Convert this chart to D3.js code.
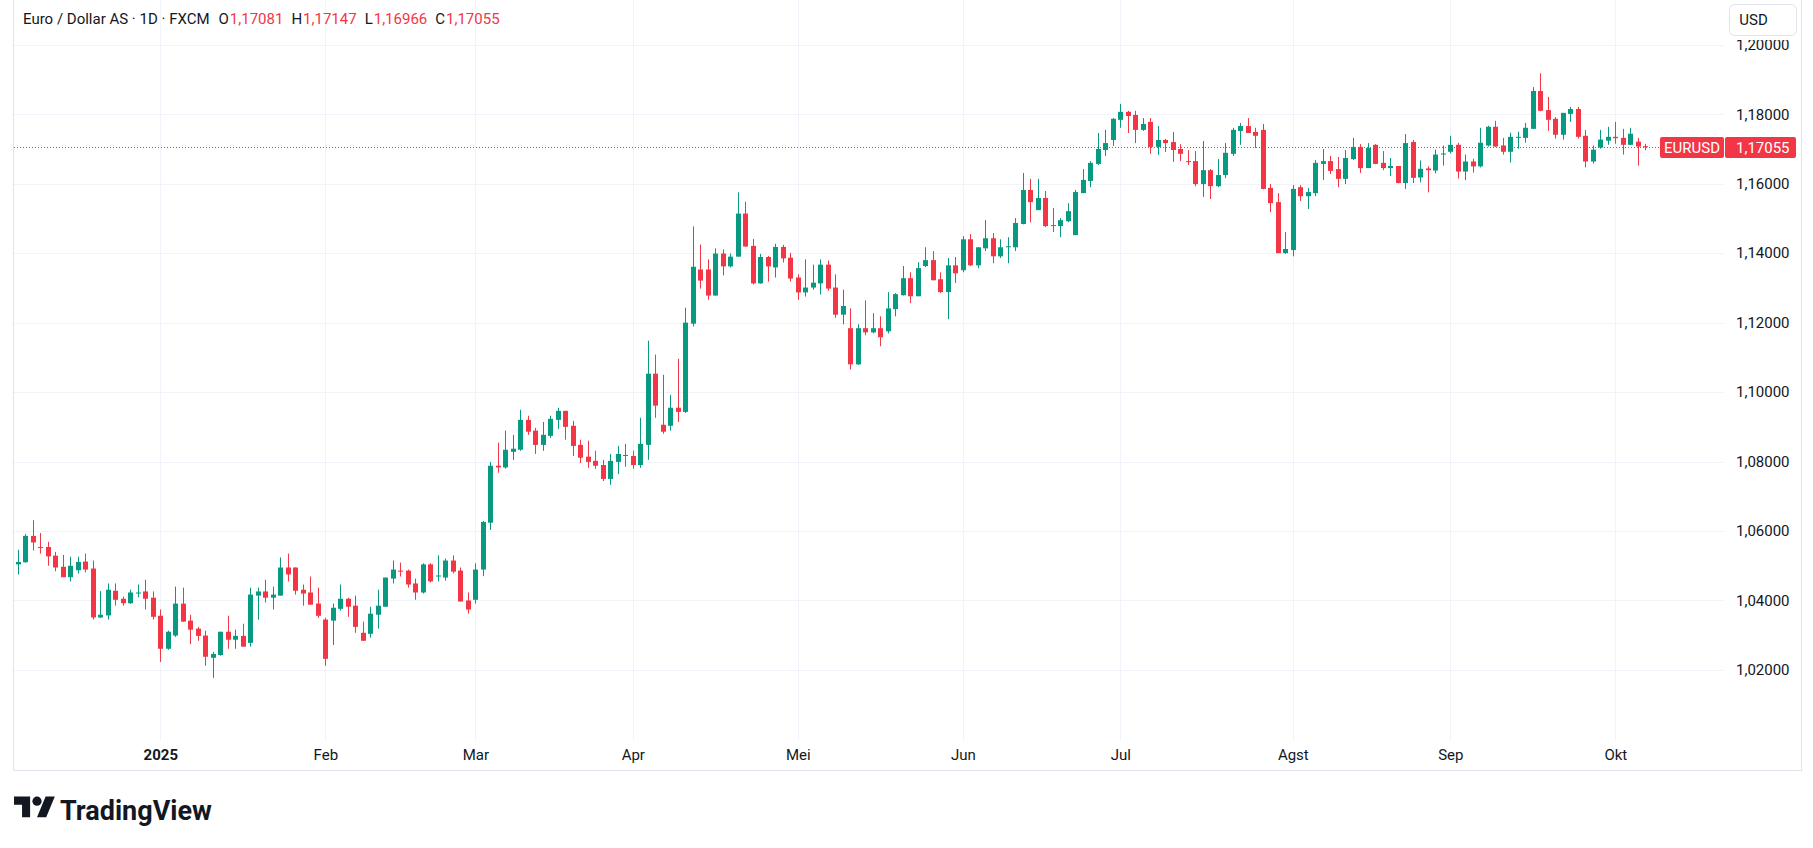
<!DOCTYPE html>
<html>
<head>
<meta charset="utf-8">
<script src="https://cdn.jsdelivr.net/npm/d3@7/dist/d3.min.js"></script>
<style>
  html, body { margin: 0; padding: 0; background: #ffffff; }
  svg { display: block; font-family: Roboto, "Liberation Sans", sans-serif; }
</style>
</head>
<body>
<div id="chart"></div>
<script>
// daily EURUSD bars, Dec 2024 .. Oct 7 2025 (one entry per trading day)
var openValues = [
  1.0504, 1.0510, 1.0586, 1.0554, 1.0554, 1.0529, 1.0497, 1.0467, 1.0487, 1.0512,
  1.0492, 1.0351, 1.0357, 1.0428, 1.0405, 1.0392, 1.0420, 1.0426, 1.0408, 1.0356,
  1.0261, 1.0299, 1.0391, 1.0342, 1.0319, 1.0299, 1.0235, 1.0243, 1.0310, 1.0287,
  1.0298, 1.0278, 1.0414, 1.0426, 1.0408, 1.0414, 1.0495, 1.0495, 1.0431, 1.0423,
  1.0391, 1.0345, 1.0342, 1.0376, 1.0405, 1.0385, 1.0307, 1.0304, 1.0359, 1.0382,
  1.0463, 1.0486, 1.0486, 1.0449, 1.0423, 1.0504, 1.0469, 1.0466, 1.0515, 1.0486,
  1.0400, 1.0402, 1.0489, 1.0624, 1.0788, 1.0783, 1.0828, 1.0834, 1.0920, 1.0889,
  1.0848, 1.0874, 1.0920, 1.0946, 1.0903, 1.0848, 1.0814, 1.0802, 1.0790, 1.0750,
  1.0799, 1.0819, 1.0816, 1.0790, 1.0848, 1.1053, 1.0906, 1.0903, 1.0955, 1.0943,
  1.1197, 1.1353, 1.1353, 1.1278, 1.1399, 1.1362, 1.1390, 1.1514, 1.1421, 1.1313,
  1.1389, 1.1359, 1.1418, 1.1387, 1.1330, 1.1287, 1.1301, 1.1313, 1.1367, 1.1301,
  1.1223, 1.1184, 1.1080, 1.1184, 1.1172, 1.1184, 1.1175, 1.1239, 1.1279, 1.1328,
  1.1276, 1.1363, 1.1380, 1.1325, 1.1288, 1.1365, 1.1351, 1.1440, 1.1365, 1.1414,
  1.1443, 1.1391, 1.1417, 1.1417, 1.1484, 1.1582, 1.1524, 1.1559, 1.1481, 1.1478,
  1.1492, 1.1452, 1.1573, 1.1608, 1.1657, 1.1697, 1.1726, 1.1784, 1.1807, 1.1798,
  1.1755, 1.1778, 1.1706, 1.1726, 1.1720, 1.1700, 1.1665, 1.1665, 1.1599, 1.1639,
  1.1593, 1.1625, 1.1686, 1.1752, 1.1766, 1.1749, 1.1755, 1.1588, 1.1547, 1.1400,
  1.1409, 1.1590, 1.1564, 1.1573, 1.1657, 1.1665, 1.1642, 1.1614, 1.1671, 1.1706,
  1.1645, 1.1712, 1.1660, 1.1645, 1.1651, 1.1602, 1.1720, 1.1618, 1.1644, 1.1638,
  1.1684, 1.1692, 1.1712, 1.1635, 1.1664, 1.1650, 1.1710, 1.1764, 1.1710, 1.1692,
  1.1733, 1.1732, 1.1758, 1.1867, 1.1812, 1.1787, 1.1741, 1.1801, 1.1815, 1.1738,
  1.1664, 1.1704, 1.1724, 1.1735, 1.1732, 1.1712, 1.1721, 1.17081
];
var highValues = [
  1.0546, 1.0591, 1.0631, 1.0594, 1.0569, 1.0540, 1.0531, 1.0526, 1.0526, 1.0535,
  1.0515, 1.0427, 1.0449, 1.0449, 1.0411, 1.0431, 1.0446, 1.0460, 1.0426, 1.0374,
  1.0313, 1.0440, 1.0437, 1.0359, 1.0324, 1.0313, 1.0252, 1.0310, 1.0356, 1.0316,
  1.0333, 1.0437, 1.0437, 1.0460, 1.0440, 1.0524, 1.0535, 1.0495, 1.0446, 1.0469,
  1.0437, 1.0350, 1.0391, 1.0446, 1.0408, 1.0414, 1.0339, 1.0382, 1.0431, 1.0466,
  1.0515, 1.0509, 1.0489, 1.0463, 1.0507, 1.0507, 1.0530, 1.0521, 1.0530, 1.0495,
  1.0423, 1.0507, 1.0629, 1.0799, 1.0854, 1.0889, 1.0877, 1.0949, 1.0932, 1.0897,
  1.0914, 1.0932, 1.0955, 1.0946, 1.0917, 1.0863, 1.0860, 1.0831, 1.0805, 1.0822,
  1.0845, 1.0851, 1.0831, 1.0926, 1.1148, 1.1108, 1.1050, 1.0992, 1.1096, 1.1243,
  1.1477, 1.1425, 1.1382, 1.1414, 1.1411, 1.1399, 1.1575, 1.1548, 1.1441, 1.1398,
  1.1392, 1.1427, 1.1424, 1.1401, 1.1339, 1.1382, 1.1367, 1.1382, 1.1379, 1.1339,
  1.1295, 1.1241, 1.1195, 1.1264, 1.1227, 1.1218, 1.1288, 1.1285, 1.1363, 1.1345,
  1.1374, 1.1417, 1.1406, 1.1345, 1.1386, 1.1389, 1.1449, 1.1455, 1.1417, 1.1495,
  1.1458, 1.1440, 1.1446, 1.1501, 1.1631, 1.1614, 1.1614, 1.1579, 1.1530, 1.1501,
  1.1544, 1.1582, 1.1642, 1.1665, 1.1746, 1.1755, 1.1789, 1.1830, 1.1810, 1.1810,
  1.1789, 1.1789, 1.1766, 1.1729, 1.1749, 1.1714, 1.1697, 1.1694, 1.1723, 1.1642,
  1.1671, 1.1717, 1.1761, 1.1775, 1.1789, 1.1761, 1.1772, 1.1599, 1.1573, 1.1461,
  1.1596, 1.1596, 1.1588, 1.1668, 1.1700, 1.1680, 1.1677, 1.1697, 1.1732, 1.1714,
  1.1717, 1.1714, 1.1694, 1.1674, 1.1651, 1.1743, 1.1726, 1.1667, 1.1650, 1.1698,
  1.1710, 1.1738, 1.1718, 1.1684, 1.1672, 1.1761, 1.1767, 1.1781, 1.1732, 1.1747,
  1.1750, 1.1775, 1.1878, 1.1918, 1.1850, 1.1792, 1.1804, 1.1821, 1.1821, 1.1755,
  1.1710, 1.1755, 1.1764, 1.1778, 1.1758, 1.1761, 1.1732, 1.17147
];
var lowValues = [
  1.0475, 1.0509, 1.0544, 1.0535, 1.0500, 1.0484, 1.0467, 1.0455, 1.0478, 1.0481,
  1.0345, 1.0350, 1.0345, 1.0385, 1.0385, 1.0390, 1.0409, 1.0374, 1.0345, 1.0223,
  1.0258, 1.0295, 1.0339, 1.0275, 1.0284, 1.0212, 1.0177, 1.0241, 1.0261, 1.0261,
  1.0267, 1.0267, 1.0345, 1.0394, 1.0374, 1.0414, 1.0455, 1.0417, 1.0385, 1.0388,
  1.0350, 1.0212, 1.0272, 1.0371, 1.0353, 1.0307, 1.0284, 1.0293, 1.0319, 1.0382,
  1.0449, 1.0469, 1.0437, 1.0402, 1.0420, 1.0452, 1.0455, 1.0457, 1.0478, 1.0397,
  1.0362, 1.0391, 1.0470, 1.0603, 1.0768, 1.0780, 1.0805, 1.0831, 1.0877, 1.0822,
  1.0831, 1.0868, 1.0894, 1.0863, 1.0816, 1.0796, 1.0782, 1.0779, 1.0744, 1.0733,
  1.0764, 1.0785, 1.0779, 1.0782, 1.0805, 1.0926, 1.0880, 1.0889, 1.0914, 1.0940,
  1.1189, 1.1298, 1.1266, 1.1278, 1.1336, 1.1359, 1.1390, 1.1419, 1.1310, 1.1312,
  1.1318, 1.1330, 1.1373, 1.1318, 1.1266, 1.1275, 1.1295, 1.1281, 1.1292, 1.1214,
  1.1195, 1.1065, 1.1078, 1.1164, 1.1169, 1.1132, 1.1169, 1.1218, 1.1278, 1.1256,
  1.1276, 1.1360, 1.1322, 1.1285, 1.1210, 1.1314, 1.1345, 1.1363, 1.1357, 1.1406,
  1.1371, 1.1386, 1.1371, 1.1406, 1.1483, 1.1489, 1.1524, 1.1475, 1.1461, 1.1446,
  1.1489, 1.1452, 1.1573, 1.1590, 1.1654, 1.1680, 1.1709, 1.1761, 1.1746, 1.1717,
  1.1752, 1.1686, 1.1683, 1.1691, 1.1663, 1.1665, 1.1654, 1.1593, 1.1562, 1.1556,
  1.1590, 1.1616, 1.1680, 1.1712, 1.1746, 1.1703, 1.1584, 1.1518, 1.1400, 1.1398,
  1.1391, 1.1550, 1.1527, 1.1564, 1.1611, 1.1628, 1.1590, 1.1599, 1.1668, 1.1631,
  1.1645, 1.1656, 1.1639, 1.1622, 1.1601, 1.1585, 1.1602, 1.1604, 1.1575, 1.1630,
  1.1652, 1.1687, 1.1615, 1.1610, 1.1632, 1.1647, 1.1707, 1.1706, 1.1684, 1.1661,
  1.1701, 1.1718, 1.1758, 1.1809, 1.1752, 1.1730, 1.1727, 1.1778, 1.1730, 1.1647,
  1.1658, 1.1701, 1.1712, 1.1715, 1.1684, 1.1712, 1.1652, 1.16966
];
var closeValues = [
  1.0511, 1.0586, 1.0567, 1.0552, 1.0527, 1.0495, 1.0467, 1.0500, 1.0511, 1.0489,
  1.0351, 1.0359, 1.0431, 1.0402, 1.0392, 1.0423, 1.0423, 1.0405, 1.0353, 1.0261,
  1.0310, 1.0391, 1.0339, 1.0316, 1.0298, 1.0238, 1.0246, 1.0310, 1.0287, 1.0298,
  1.0267, 1.0417, 1.0426, 1.0408, 1.0417, 1.0495, 1.0475, 1.0428, 1.0420, 1.0388,
  1.0356, 1.0232, 1.0379, 1.0405, 1.0382, 1.0324, 1.0284, 1.0362, 1.0385, 1.0466,
  1.0489, 1.0483, 1.0446, 1.0423, 1.0504, 1.0455, 1.0472, 1.0515, 1.0483, 1.0397,
  1.0374, 1.0489, 1.0626, 1.0788, 1.0783, 1.0834, 1.0837, 1.0920, 1.0886, 1.0848,
  1.0877, 1.0923, 1.0946, 1.0900, 1.0845, 1.0811, 1.0799, 1.0788, 1.0750, 1.0802,
  1.0822, 1.0816, 1.0790, 1.0851, 1.1053, 1.0961, 1.0886, 1.0955, 1.0943, 1.1200,
  1.1361, 1.1321, 1.1278, 1.1399, 1.1362, 1.1390, 1.1514, 1.1419, 1.1313, 1.1389,
  1.1362, 1.1418, 1.1385, 1.1327, 1.1287, 1.1301, 1.1315, 1.1367, 1.1298, 1.1223,
  1.1248, 1.1080, 1.1184, 1.1172, 1.1184, 1.1158, 1.1241, 1.1282, 1.1328, 1.1276,
  1.1357, 1.1380, 1.1322, 1.1288, 1.1365, 1.1342, 1.1440, 1.1365, 1.1417, 1.1443,
  1.1391, 1.1417, 1.1420, 1.1487, 1.1582, 1.1547, 1.1559, 1.1478, 1.1478, 1.1495,
  1.1521, 1.1576, 1.1611, 1.1660, 1.1700, 1.1717, 1.1787, 1.1807, 1.1795, 1.1755,
  1.1772, 1.1706, 1.1726, 1.1717, 1.1697, 1.1686, 1.1663, 1.1599, 1.1639, 1.1593,
  1.1625, 1.1689, 1.1755, 1.1766, 1.1746, 1.1738, 1.1585, 1.1544, 1.1400, 1.1412,
  1.1585, 1.1564, 1.1576, 1.1660, 1.1665, 1.1637, 1.1614, 1.1674, 1.1706, 1.1645,
  1.1703, 1.1657, 1.1645, 1.1651, 1.1602, 1.1717, 1.1617, 1.1643, 1.1639, 1.1684,
  1.1687, 1.1712, 1.1635, 1.1664, 1.1650, 1.1718, 1.1764, 1.1707, 1.1692, 1.1735,
  1.1735, 1.1761, 1.1867, 1.1810, 1.1784, 1.1741, 1.1804, 1.1815, 1.1735, 1.1664,
  1.1698, 1.1727, 1.1735, 1.1731, 1.1712, 1.1744, 1.1707, 1.17055
];

// first bar of each month on the time axis
var monthLabels = ["2025", "Feb", "Mar", "Apr", "Mei", "Jun", "Jul", "Agst", "Sep", "Okt"];
var monthBars = [19, 41, 61, 82, 104, 126, 147, 170, 191, 213];

var priceTicks = [1.02, 1.04, 1.06, 1.08, 1.10, 1.12, 1.14, 1.16, 1.18, 1.20];

var symbolTitle = "Euro / Dollar AS \u00b7 1D \u00b7 FXCM";
var ohlcNames = ["O", "H", "L", "C"];
var ohlcLast = [1.17081, 1.17147, 1.16966, 1.17055];
var tickerName = "EURUSD";

var CandleChart = function()
{
  this.WIDTH = 1813;
  this.HEIGHT = 848;
  this.PLOT_LEFT = 13;
  this.PLOT_RIGHT = 1724;
  this.PLOT_BOTTOM = 740;
  this.FRAME_RIGHT = 1801;
  this.FRAME_BOTTOM = 770;
  this.UP = "#089981";
  this.DOWN = "#f23645";
  this.GRID = "#f0f3fa";
  this.TEXT = "#131722";

  this.svg = null;
  this.x = d3.scaleLinear().domain([0, closeValues.length - 1]).range([17.8, 1645.3]);
  this.y = d3.scaleLinear().domain([1.0, 1.2]).range([739.4, 44.8]);
  this.bars = d3.range(closeValues.length).map(function(i) {
    return { i: i, o: openValues[i], h: highValues[i], l: lowValues[i], c: closeValues[i] };
  });
};

CandleChart.prototype.priceFormat = function(v)
{
  return d3.format(".5f")(v).replace(".", ",");
}

CandleChart.prototype.init = function()
{
  this.svg = d3.select("#chart").append("svg")
                                .attr("width", this.WIDTH)
                                .attr("height", this.HEIGHT);
}

CandleChart.prototype.drawGrid = function()
{
  var self = this;
  var g = this.svg.append("g").attr("class", "grid");

  g.selectAll("line.h").data(priceTicks).enter().append("line")
   .attr("x1", this.PLOT_LEFT)
   .attr("x2", this.PLOT_RIGHT)
   .attr("y1", function (d) { return Math.round(self.y(d)) + 0.5; })
   .attr("y2", function (d) { return Math.round(self.y(d)) + 0.5; })
   .attr("stroke", this.GRID)
   .attr("stroke-width", 1);

  g.selectAll("line.v").data(monthBars).enter().append("line")
   .attr("x1", function (d) { return Math.round(self.x(d)) + 0.5; })
   .attr("x2", function (d) { return Math.round(self.x(d)) + 0.5; })
   .attr("y1", 0)
   .attr("y2", this.PLOT_BOTTOM)
   .attr("stroke", this.GRID)
   .attr("stroke-width", 1);

  // outer frame (left, right, bottom)
  var frame = "M" + (this.PLOT_LEFT + 0.5) + ",0V" + (this.FRAME_BOTTOM + 0.5) +
              "H" + (this.FRAME_RIGHT + 0.5) + "V0";
  this.svg.append("path")
          .attr("d", frame)
          .attr("fill", "none")
          .attr("stroke", "#e0e3eb")
          .attr("stroke-width", 1);
}

CandleChart.prototype.drawCandles = function()
{
  var self = this;
  var g = this.svg.append("g").attr("class", "candles");
  var color = function (b) { return b.c >= b.o ? self.UP : self.DOWN; };

  g.selectAll("line").data(this.bars).enter().append("line")
   .attr("x1", function (b) { return Math.round(self.x(b.i)) + 0.5; })
   .attr("x2", function (b) { return Math.round(self.x(b.i)) + 0.5; })
   .attr("y1", function (b) { return self.y(b.h); })
   .attr("y2", function (b) { return self.y(b.l); })
   .attr("stroke", color)
   .attr("stroke-width", 1);

  g.selectAll("rect").data(this.bars).enter().append("rect")
   .attr("x", function (b) { return Math.round(self.x(b.i)) - 2; })
   .attr("width", 5)
   .attr("y", function (b) { return self.y(Math.max(b.o, b.c)); })
   .attr("height", function (b) {
      return Math.max(1, self.y(Math.min(b.o, b.c)) - self.y(Math.max(b.o, b.c)));
   })
   .attr("fill", color);
}

CandleChart.prototype.drawAxes = function()
{
  var self = this;

  var yAxis = d3.axisRight(this.y)
                .tickValues(priceTicks)
                .tickSize(0)
                .tickPadding(12)
                .tickFormat(function (d) { return self.priceFormat(d); });

  var ya = this.svg.append("g")
                   .attr("transform", "translate(" + this.PLOT_RIGHT + ",0)")
                   .call(yAxis);
  ya.select(".domain").remove();
  ya.selectAll("text")
    .attr("fill", this.TEXT)
    .attr("font-size", 15)
    .attr("font-family", "Roboto, 'Liberation Sans', sans-serif");

  var xAxis = d3.axisBottom(this.x)
                .tickValues(monthBars)
                .tickSize(0)
                .tickPadding(9)
                .tickFormat(function (d, i) { return monthLabels[i]; });

  var xa = this.svg.append("g")
                   .attr("transform", "translate(0," + this.PLOT_BOTTOM + ")")
                   .call(xAxis);
  xa.select(".domain").remove();
  xa.selectAll("text")
    .attr("fill", this.TEXT)
    .attr("font-size", 15)
    .attr("font-family", "Roboto, 'Liberation Sans', sans-serif")
    .attr("font-weight", function (d, i) { return monthLabels[i] === "2025" ? "bold" : "normal"; });
}

CandleChart.prototype.drawLastPrice = function()
{
  var last = ohlcLast[3];
  var yy = Math.round(this.y(last)) + 0.5;
  var tagLeft = 1660;

  this.svg.append("line")
          .attr("x1", this.PLOT_LEFT + 1)
          .attr("x2", tagLeft)
          .attr("y1", yy)
          .attr("y2", yy)
          .attr("stroke", this.DOWN)
          .attr("stroke-width", 1)
          .attr("stroke-dasharray", "1,2");

  var tag = this.svg.append("g").attr("class", "last-price");
  tag.append("rect")
     .attr("x", tagLeft).attr("y", yy - 10.5)
     .attr("width", this.PLOT_RIGHT - tagLeft).attr("height", 21)
     .attr("rx", 2)
     .attr("fill", this.DOWN);
  tag.append("rect")
     .attr("x", this.PLOT_RIGHT + 1).attr("y", yy - 10.5)
     .attr("width", 71).attr("height", 21)
     .attr("rx", 2)
     .attr("fill", this.DOWN);
  tag.append("text")
     .attr("x", (tagLeft + this.PLOT_RIGHT) / 2).attr("y", yy)
     .attr("dy", "0.36em")
     .attr("text-anchor", "middle")
     .attr("font-size", 15)
     .attr("fill", "#ffffff")
     .text(tickerName);
  tag.append("text")
     .attr("x", this.PLOT_RIGHT + 12).attr("y", yy)
     .attr("dy", "0.36em")
     .attr("font-size", 15)
     .attr("fill", "#ffffff")
     .text(this.priceFormat(last));
}

CandleChart.prototype.drawHeader = function()
{
  var self = this;
  var t = this.svg.append("text")
                  .attr("x", 23)
                  .attr("y", 19)
                  .attr("dy", "0.36em")
                  .attr("font-size", 15)
                  .attr("fill", this.TEXT);
  t.append("tspan").text(symbolTitle);
  ohlcNames.forEach(function (n, i) {
    t.append("tspan").attr("dx", i === 0 ? 9 : 8).attr("fill", self.TEXT).text(n);
    t.append("tspan").attr("dx", 1).attr("fill", self.DOWN).text(self.priceFormat(ohlcLast[i]));
  });

  // currency button, it hides the top of the 1,20000 label
  this.svg.append("rect")
          .attr("x", 1726).attr("y", 0)
          .attr("width", 73).attr("height", 40)
          .attr("fill", "#ffffff");
  this.svg.append("rect")
          .attr("x", 1729.5).attr("y", 4.5)
          .attr("width", 67).attr("height", 31)
          .attr("rx", 5)
          .attr("fill", "#ffffff")
          .attr("stroke", "#e0e3eb");
  this.svg.append("text")
          .attr("x", 1753.5).attr("y", 20)
          .attr("dy", "0.36em")
          .attr("text-anchor", "middle")
          .attr("font-size", 15)
          .attr("fill", this.TEXT)
          .text("USD");
}

CandleChart.prototype.drawLogo = function()
{
  var logo = this.svg.append("g").attr("transform", "translate(14,792) scale(1.15)");
  logo.append("path")
      .attr("d", "M14 22H7V11H0V4h14v18zM28 22h-8l7.5-18h8L28 22z")
      .attr("fill", this.TEXT);
  logo.append("circle")
      .attr("cx", 20).attr("cy", 8).attr("r", 4)
      .attr("fill", this.TEXT);

  this.svg.append("text")
          .attr("x", 60)
          .attr("y", 820)
          .attr("font-size", 27)
          .attr("font-weight", "bold")
          .attr("fill", this.TEXT)
          .text("TradingView");
}

var chart = new CandleChart();
chart.init();
chart.drawGrid();
chart.drawCandles();
chart.drawLastPrice();
chart.drawAxes();
chart.drawHeader();
chart.drawLogo();
</script>
</body>
</html>
